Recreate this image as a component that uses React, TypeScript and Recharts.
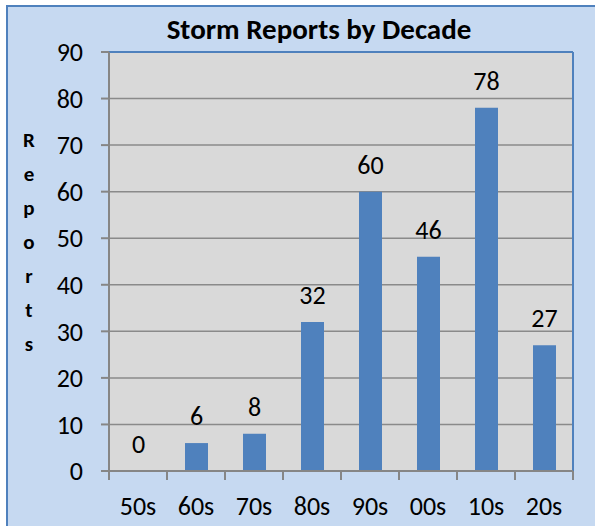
import React from 'react';
import { BarChart, Bar, XAxis, YAxis, CartesianGrid, LabelList, Customized } from 'recharts';

const decades = ['50s', '60s', '70s', '80s', '90s', '00s', '10s', '20s'];
const reports = [0, 6, 8, 32, 60, 46, 78, 27];
const yTicks = [0, 10, 20, 30, 40, 50, 60, 70, 80, 90];
const title = 'Storm Reports by Decade';
const yLabel = 'Reports';

const W = 595;
const H = 526;
const MARGIN = { top: 52, right: 22, left: 0, bottom: 0 };
const Y_AXIS_W = 109;
const X_AXIS_H = 55;
const PLOT_L = MARGIN.left + Y_AXIS_W;
const PLOT_R = W - MARGIN.right;
const PLOT_T = MARGIN.top;
const PLOT_B = H - MARGIN.bottom - X_AXIS_H;
const BAND = (PLOT_R - PLOT_L) / decades.length;

const FONT = 'Calibri, Carlito, Lato, sans-serif';
const AXIS_GRAY = '#868686';
const BLUE = '#4f81bd';

const data = decades.map((d, i) => ({ decade: d, reports: reports[i] }));

function XTick(props: any) {
  const { x, payload } = props;
  return (
    <g>
      <line x1={x - BAND / 2} x2={x - BAND / 2} y1={PLOT_B} y2={PLOT_B + 9} stroke={AXIS_GRAY} strokeWidth={2} />
      <line x1={x + BAND / 2} x2={x + BAND / 2} y1={PLOT_B} y2={PLOT_B + 9} stroke={AXIS_GRAY} strokeWidth={2} />
      <text x={x} y={PLOT_B + 44} textAnchor="middle" fontSize={26} fontFamily={FONT} fill="#000">
        {payload.value}
      </text>
    </g>
  );
}

function Decorations() {
  return (
    <g>
      <line x1={PLOT_L} x2={PLOT_R} y1={PLOT_T} y2={PLOT_T} stroke={BLUE} strokeWidth={2} />
      <line x1={PLOT_R} x2={PLOT_R} y1={PLOT_T} y2={PLOT_B} stroke={BLUE} strokeWidth={2} />
      <text x={319} y={39} textAnchor="middle" fontSize={29} fontWeight="bold" fontFamily={FONT} fill="#000">
        {title}
      </text>
      {yLabel.split('').map((ch, i) => (
        <text key={i} x={29} y={147 + i * 34} textAnchor="middle" fontSize={21} fontWeight="bold" fontFamily={FONT} fill="#000">
          {ch}
        </text>
      ))}
    </g>
  );
}

export default function App() {
  return (
    <div style={{ position: 'absolute', left: 0, top: 0, width: W, height: H, background: '#fff', overflow: 'hidden' }}>
      <div
        style={{
          position: 'absolute',
          left: 6,
          top: 5,
          right: 0,
          bottom: 0,
          background: '#c6d9f1',
          borderLeft: `2px solid ${BLUE}`,
          borderTop: `2px solid ${BLUE}`,
        }}
      />
      <div style={{ position: 'absolute', left: 0, top: 0 }}>
        <BarChart width={W} height={H} data={data} margin={MARGIN}>
          <CartesianGrid vertical={false} stroke="#8a8a8a" strokeWidth={1.5} fill="#d9d9d9" />
          <XAxis
            dataKey="decade"
            height={X_AXIS_H}
            tickLine={false}
            axisLine={{ stroke: AXIS_GRAY, strokeWidth: 2 }}
            tick={<XTick />}
            interval={0}
          />
          <YAxis
            width={Y_AXIS_W}
            domain={[0, 90]}
            ticks={yTicks}
            interval={0}
            tickSize={8}
            tickMargin={18}
            tickLine={{ stroke: AXIS_GRAY, strokeWidth: 2 }}
            axisLine={{ stroke: AXIS_GRAY, strokeWidth: 2 }}
            tick={{ fontSize: 26, fontFamily: FONT, fill: '#000' }}
          />
          <Bar dataKey="reports" fill={BLUE} barSize={23} minPointSize={0.01} isAnimationActive={false}>
            <LabelList dataKey="reports" position="top" offset={18} fontSize={26} fontFamily={FONT} fill="#000" />
          </Bar>
          <Customized component={<Decorations />} />
        </BarChart>
      </div>
    </div>
  );
}
